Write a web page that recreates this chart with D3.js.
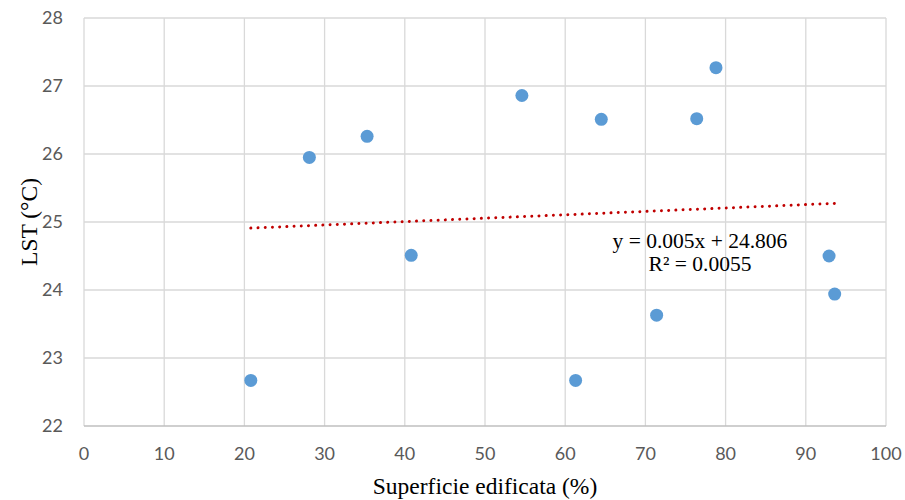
<!DOCTYPE html>
<html>
<head>
<meta charset="utf-8">
<script src="https://cdn.jsdelivr.net/npm/d3@7"></script>
<style>
  body { margin: 0; background: #fff; }
</style>
</head>
<body>
<div id="chart"></div>
<script>
// data
var built = [20.8, 28.1, 35.3, 40.8, 54.6, 61.3, 64.5, 71.4, 76.4, 78.8, 92.9, 93.6]
var lst = [22.67, 25.95, 26.26, 24.51, 26.86, 22.67, 26.51, 23.63, 26.52, 27.27, 24.5, 23.94]
var xTicks = [0, 10, 20, 30, 40, 50, 60, 70, 80, 90, 100]
var yTicks = [22, 23, 24, 25, 26, 27, 28]
var slope = 0.005
var intercept = 24.806
var eqLines = ["y = 0.005x + 24.806", "R\u00b2 = 0.0055"]

var width = 905
var height = 500
var plotLeft = 84, plotRight = 886, plotTop = 18, plotBottom = 426

var svg = d3.select('#chart').append('svg')
  .attr('width', width).attr('height', height)

var x = d3.scaleLinear().domain([0, 100]).range([plotLeft, plotRight])
var y = d3.scaleLinear().domain([22, 28]).range([plotBottom, plotTop])

// gridlines
svg.append('g').selectAll('line')
  .data(xTicks)
  .enter().append('line')
  .attr('x1', d => x(d)).attr('x2', d => x(d))
  .attr('y1', plotTop).attr('y2', plotBottom)
  .attr('stroke', '#d9d9d9').attr('stroke-width', 1.3)

svg.append('g').selectAll('line')
  .data(yTicks)
  .enter().append('line')
  .attr('x1', plotLeft).attr('x2', plotRight)
  .attr('y1', d => y(d)).attr('y2', d => y(d))
  .attr('stroke', d => d === 22 ? '#bfbfbf' : '#d9d9d9')
  .attr('stroke-width', 1.3)

// tick labels
svg.append('g').selectAll('text')
  .data(yTicks)
  .enter().append('text')
  .attr('x', 63).attr('y', d => y(d) + 6)
  .attr('text-anchor', 'end')
  .style('font-family', 'Lato, "Open Sans", sans-serif')
  .style('font-size', '18px')
  .style('fill', '#595959')
  .text(d => d)

svg.append('g').selectAll('text')
  .data(xTicks)
  .enter().append('text')
  .attr('x', d => x(d)).attr('y', 460)
  .attr('text-anchor', 'middle')
  .style('font-family', 'Lato, "Open Sans", sans-serif')
  .style('font-size', '18px')
  .style('fill', '#595959')
  .text(d => d)

// linear trendline, dotted
var x0 = d3.min(built), x1 = d3.max(built)
svg.append('line')
  .attr('x1', x(x0)).attr('y1', y(slope * x0 + intercept))
  .attr('x2', x(x1)).attr('y2', y(slope * x1 + intercept))
  .attr('stroke', '#c00000')
  .attr('stroke-width', 3)
  .attr('stroke-linecap', 'round')
  .attr('stroke-dasharray', '0.01 7.2')

// points
svg.append('g').selectAll('circle')
  .data(built)
  .enter().append('circle')
  .attr('cx', d => x(d))
  .attr('cy', (d, i) => y(lst[i]))
  .attr('r', 6.5)
  .style('fill', '#5b9bd5')

// equation
svg.append('g').selectAll('text')
  .data(eqLines)
  .enter().append('text')
  .attr('x', 700).attr('y', (d, i) => 248 + i * 23)
  .attr('text-anchor', 'middle')
  .style('font-family', '"Liberation Serif", serif')
  .style('font-size', '21.5px')
  .style('fill', '#000')
  .text(d => d)

// axis titles
svg.append('text')
  .attr('x', 485).attr('y', 494)
  .attr('text-anchor', 'middle')
  .style('font-family', '"Liberation Serif", serif')
  .style('font-size', '23.5px')
  .text('Superficie edificata (%)')

svg.append('text')
  .attr('transform', 'translate(37,' + (plotTop + plotBottom) / 2 + ') rotate(-90)')
  .attr('text-anchor', 'middle')
  .style('font-family', '"Liberation Serif", serif')
  .style('font-size', '23.5px')
  .text('LST (\u00b0C)')
</script>
</body>
</html>
